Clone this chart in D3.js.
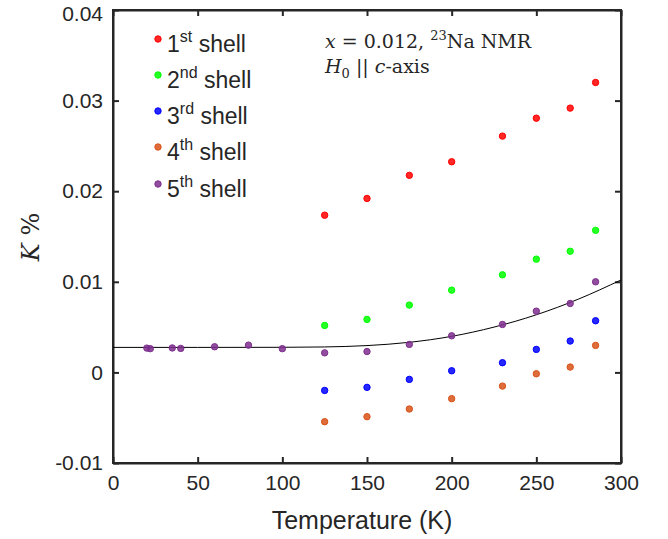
<!DOCTYPE html>
<html>
<head>
<meta charset="utf-8">
<script src="https://cdn.jsdelivr.net/npm/d3@7"></script>
<style>
  html, body { margin: 0; padding: 0; background: #fff; }
  svg { display: block; }
  text { fill: #262626; }
</style>
</head>
<body>
<svg id="chart" width="668" height="539"></svg>
<script>
// ---------------- data ----------------
const xTicks = [0, 50, 100, 150, 200, 250, 300];
const yTicks = [-0.01, 0, 0.01, 0.02, 0.03, 0.04];
const yTickLabels = ["-0.01", "0", "0.01", "0.02", "0.03", "0.04"];

const tempsHigh = [125, 150, 175, 200, 230, 250, 270, 285];
const shell1 = [0.01735, 0.01920, 0.02175, 0.02325, 0.02608, 0.02806, 0.02917, 0.03200];
const shell2 = [0.00518, 0.00585, 0.00743, 0.00908, 0.01077, 0.01250, 0.01337, 0.01568];
const shell3 = [-0.00199, -0.00165, -0.00077, 0.00018, 0.00107, 0.00254, 0.00346, 0.00570];
const shell4 = [-0.00544, -0.00489, -0.00404, -0.00290, -0.00151, -0.00015, 0.00059, 0.00298];

const temps5 = [20, 22, 35, 40, 60, 80, 100, 125, 150, 175, 200, 230, 250, 270, 285];
const shell5 = [0.00268, 0.00262, 0.00270, 0.00265, 0.00283, 0.00301, 0.00262, 0.00216, 0.00230, 0.00309, 0.00404, 0.00529, 0.00676, 0.00761, 0.01000];

// fitted curve
const fitT = [0, 50, 100, 125, 150, 175, 200, 225, 250, 275, 300];
const fitK = [0.00276, 0.00276, 0.00277, 0.00281, 0.00296, 0.00332, 0.00398, 0.00500, 0.00636, 0.00810, 0.01020];

const legendNum = ["1", "2", "3", "4", "5"];
const legendSup = ["st", "nd", "rd", "th", "th"];
const colors = ["#ff0000", "#00ff00", "#0000ff", "#d95319", "#7e2f8e"];

// ---------------- layout ----------------
const svg = d3.select("#chart");
const L = 113, T = 10, W = 508, H = 453;
const x = d3.scaleLinear().domain([0, 300]).range([L, L + W]);
const y = d3.scaleLinear().domain([-0.01, 0.04]).range([T + H, T]);
const axisColor = "#262626";
const tickFont = "'Liberation Sans', Arial, Helvetica, sans-serif";

// axes with inward ticks (box on)
const gx = svg.append("g").attr("transform", `translate(0,${T + H})`)
  .call(d3.axisBottom(x).tickValues(xTicks).tickSizeInner(-6).tickSizeOuter(0).tickPadding(12).tickFormat(d3.format("d")));
const gxTop = svg.append("g").attr("transform", `translate(0,${T})`)
  .call(d3.axisTop(x).tickValues(xTicks).tickSizeInner(-6).tickSizeOuter(0).tickFormat(""));
const gy = svg.append("g").attr("transform", `translate(${L},0)`)
  .call(d3.axisLeft(y).tickValues(yTicks).tickSizeInner(-6).tickSizeOuter(0).tickPadding(10)
    .tickFormat((d, i) => yTickLabels[i]));
const gyR = svg.append("g").attr("transform", `translate(${L + W},0)`)
  .call(d3.axisRight(y).tickValues(yTicks).tickSizeInner(-6).tickSizeOuter(0).tickFormat(""));

[gx, gxTop, gy, gyR].forEach(g => {
  g.select(".domain").attr("stroke", axisColor).attr("stroke-width", 2);
  g.selectAll(".tick line").attr("stroke", axisColor).attr("stroke-width", 2);
  g.selectAll(".tick text").attr("fill", axisColor).style("font-family", tickFont).style("font-size", "21px");
});
gx.selectAll(".tick text").attr("dy", "0.71em");
// keep the top label fully inside the page
gy.selectAll(".tick text").filter(d => d === 0.04).attr("dy", "0.5em");

// box
svg.append("rect").attr("x", L).attr("y", T).attr("width", W).attr("height", H)
  .attr("fill", "none").attr("stroke", axisColor).attr("stroke-width", 2);

// axis labels
svg.append("text").attr("x", 362).attr("y", 529).attr("text-anchor", "middle")
  .style("font-family", tickFont).style("font-size", "25px").text("Temperature (K)");

const serif = "'DejaVu Serif', 'Liberation Serif', serif";
const yl = svg.append("text").attr("transform", "translate(39,237) rotate(-90)").attr("text-anchor", "middle")
  .style("font-family", serif).style("font-size", "24px");
yl.append("tspan").style("font-style", "italic").text("K");
yl.append("tspan").text(" %");

// fitted curve
const line = d3.line().x((d, i) => x(fitT[i])).y(d => y(d)).curve(d3.curveMonotoneX);
svg.append("path").datum(fitK).attr("d", line).attr("fill", "none").attr("stroke", "#000").attr("stroke-width", 1);

// points
const series = [
  { t: tempsHigh, v: shell1 },
  { t: tempsHigh, v: shell2 },
  { t: tempsHigh, v: shell3 },
  { t: tempsHigh, v: shell4 },
  { t: temps5, v: shell5 }
];
series.forEach((s, k) => {
  svg.append("g").selectAll("circle").data(s.v).join("circle")
    .attr("cx", (d, i) => x(s.t[i])).attr("cy", d => y(d)).attr("r", 3.2)
    .attr("fill", colors[k]).attr("fill-opacity", 0.85)
    .attr("stroke", colors[k]).attr("stroke-width", 1);
});

// legend
const legY = [39, 75, 111, 147, 184];
legendNum.forEach((n, i) => {
  svg.append("circle").attr("cx", 158).attr("cy", legY[i]).attr("r", 3.2)
    .attr("fill", colors[i]).attr("fill-opacity", 0.85).attr("stroke", colors[i]).attr("stroke-width", 1);
  const t = svg.append("text").attr("x", 167).attr("y", legY[i] + 13)
    .style("font-family", tickFont).style("font-size", "23px").attr("fill", "#000");
  t.append("tspan").text(n);
  t.append("tspan").attr("dy", -10).style("font-size", "16px").text(legendSup[i]);
  t.append("tspan").attr("dy", 10).text(" shell");
});

// annotation
const a1 = svg.append("text").attr("x", 325).attr("y", 48).style("font-family", serif).style("font-size", "19px").attr("fill", "#000");
a1.append("tspan").style("font-style", "italic").text("x");
a1.append("tspan").text(" = 0.012, ");
a1.append("tspan").attr("dy", -8).style("font-size", "13px").text("23");
a1.append("tspan").attr("dy", 8).text("Na NMR");
const a2 = svg.append("text").attr("x", 325).attr("y", 73).style("font-family", serif).style("font-size", "19px").attr("fill", "#000");
a2.append("tspan").style("font-style", "italic").text("H");
a2.append("tspan").attr("dy", 5).style("font-size", "13px").text("0");
a2.append("tspan").attr("dy", -5).text(" || ");
a2.append("tspan").style("font-style", "italic").text("c");
a2.append("tspan").text("-axis");
</script>
</body>
</html>
